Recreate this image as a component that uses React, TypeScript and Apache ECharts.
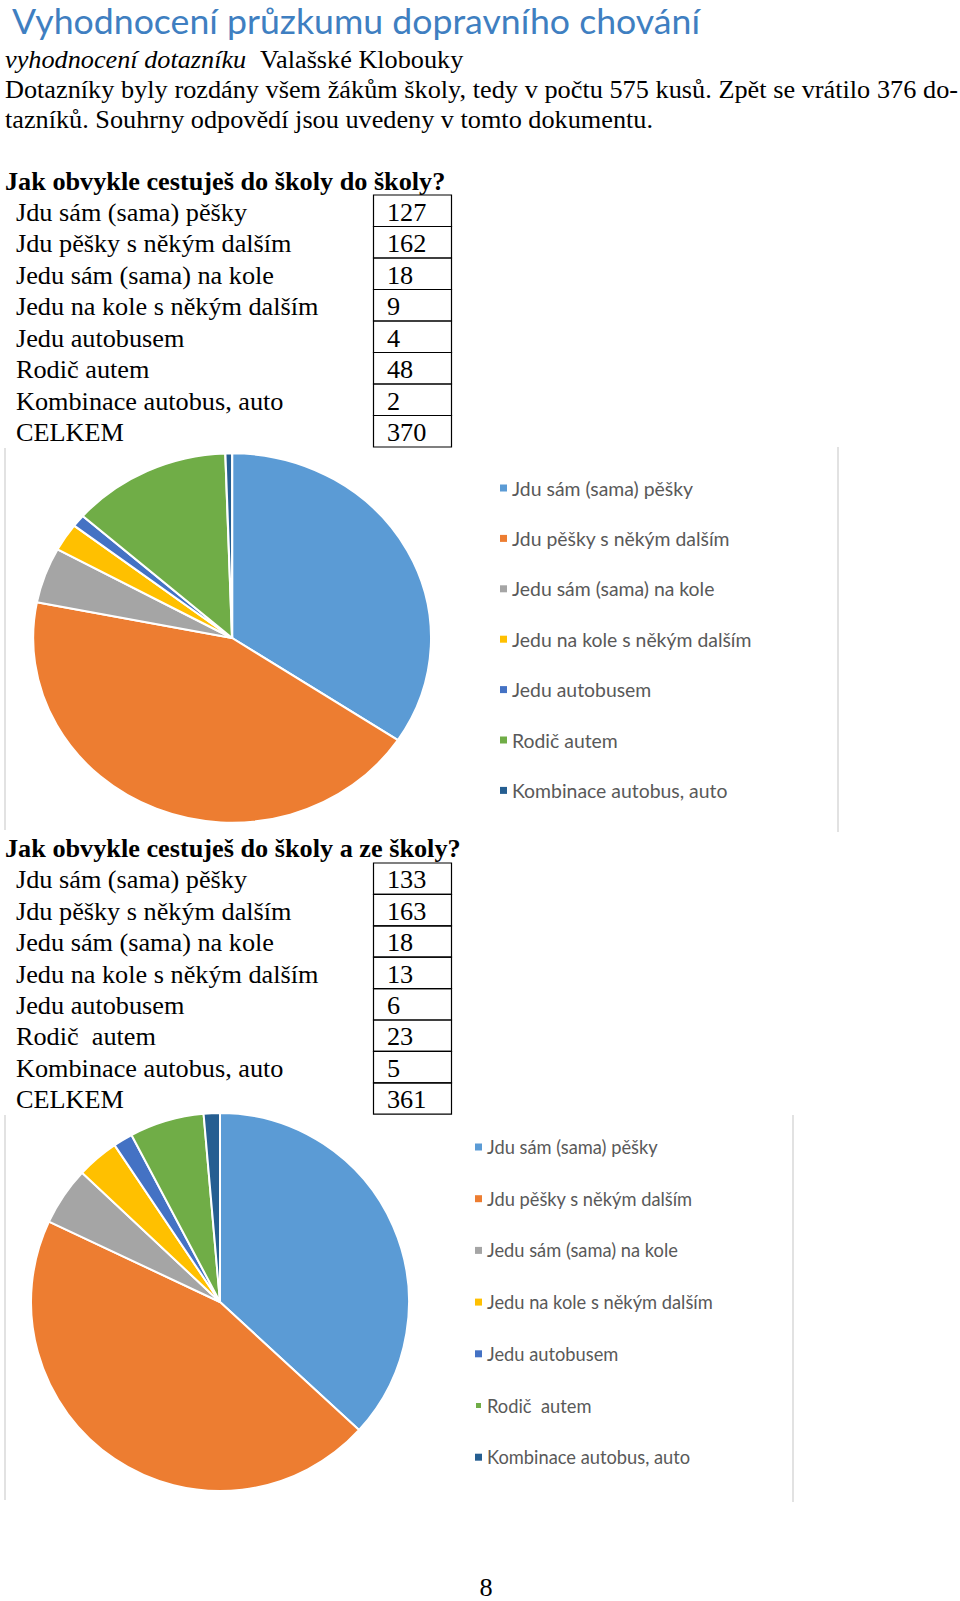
import React, { useEffect, useRef } from "react";
import * as echarts from "echarts";

// ---------- texts ----------
const TITLE = "Vyhodnocení průzkumu dopravního chování";
const SUBTITLE_ITALIC = "vyhodnocení dotazníku";
const SUBTITLE_PLACE = "Valašské Klobouky";
const PARA_LINE1 = "Dotazníky byly rozdány všem žákům školy, tedy v počtu 575 kusů. Zpět se vrátilo 376 do-";
const PARA_LINE2 = "tazníků. Souhrny odpovědí jsou uvedeny v tomto dokumentu.";
const QUESTION1 = "Jak obvykle cestuješ do školy do školy?";
const QUESTION2 = "Jak obvykle cestuješ do školy a ze školy?";
const TOTAL_LABEL = "CELKEM";
const PAGE_NUMBER = "8";

// ---------- data ----------
const categories1 = [
  "Jdu sám (sama) pěšky",
  "Jdu pěšky s někým dalším",
  "Jedu sám (sama) na kole",
  "Jedu na kole s někým dalším",
  "Jedu autobusem",
  "Rodič autem",
  "Kombinace autobus, auto",
];
const values1 = [127, 162, 18, 9, 4, 48, 2];
const total1 = 370;

const categories2 = [
  "Jdu sám (sama) pěšky",
  "Jdu pěšky s někým dalším",
  "Jedu sám (sama) na kole",
  "Jedu na kole s někým dalším",
  "Jedu autobusem",
  "Rodič  autem",
  "Kombinace autobus, auto",
];
const values2 = [133, 163, 18, 13, 6, 23, 5];
const total2 = 361;

const COLORS = ["#5B9BD5", "#ED7D31", "#A5A5A5", "#FFC000", "#4472C4", "#70AD47", "#255E91"];

// ---------- styles ----------
const SERIF = "Liberation Serif, serif";
const SANS = "Lato, sans-serif";
const SERIF_CENTRAL = 0.3375; // central baseline offset (em) for Liberation Serif
const LATO_CENTRAL = 0.387;
const SERIF_SX = 1.05; // the scanned page is slightly stretched horizontally

let measureCtx: CanvasRenderingContext2D | null = null;
function measure(text: string, font: string): number {
  if (!measureCtx) measureCtx = document.createElement("canvas").getContext("2d");
  measureCtx!.font = font;
  return measureCtx!.measureText(text).width;
}

function textEl(
  text: string,
  x: number,
  baseline: number,
  o: {
    fontSize: number;
    fontFamily?: string;
    fontWeight?: any;
    fontStyle?: string;
    fill?: string;
    align?: string;
    central?: number;
    lineHeight?: number;
    sx?: number;
  }
) {
  const central = o.central ?? SERIF_CENTRAL;
  const align = o.align ?? "left";
  const style: any = {
    text,
    fontSize: o.fontSize,
    fontFamily: o.fontFamily ?? SERIF,
    fontWeight: o.fontWeight ?? "normal",
    fontStyle: o.fontStyle ?? "normal",
    fill: o.fill ?? "#000",
    align,
    textAlign: align,
    verticalAlign: "middle",
    textVerticalAlign: "middle",
  };
  if (o.lineHeight) style.lineHeight = o.lineHeight;
  return {
    type: "text",
    x,
    y: baseline - central * o.fontSize,
    scaleX: o.sx ?? SERIF_SX,
    silent: true,
    style,
  };
}

function justifiedLine(text: string, x0: number, x1: number, baseline: number, fontSize: number) {
  const words = text.split(" ");
  const font = `${fontSize}px ${SERIF}`;
  const widths = words.map((w) => measure(w, font) * SERIF_SX);
  const total = widths.reduce((a, b) => a + b, 0);
  const gap = (x1 - x0 - total) / (words.length - 1);
  let x = x0;
  return words.map((w, i) => {
    const el = textEl(w, x, baseline, { fontSize });
    x += widths[i] + gap;
    return el;
  });
}

function tableEls(cats: string[], vals: number[], total: number, top: number, rowH: number, fontSize: number) {
  const rows: [string, string][] = [
    ...cats.map((c, i) => [c, String(vals[i])] as [string, string]),
    [TOTAL_LABEL, String(total)],
  ];
  const els: any[] = [];
  rows.forEach(([label, val], i) => {
    const y0 = top + i * rowH;
    const base = y0 + rowH / 2 + 1.5 + SERIF_CENTRAL * fontSize;
    els.push({
      type: "rect",
      silent: true,
      shape: { x: 373.5, y: y0, width: 78, height: rowH },
      style: { fill: "none", stroke: "#000", lineWidth: 1.2 },
    });
    els.push(textEl(label, 16, base, { fontSize }));
    els.push(textEl(val, 387, base, { fontSize }));
  });
  return els;
}

function vline(x: number, y1: number, y2: number) {
  return {
    type: "line",
    silent: true,
    shape: { x1: x, y1, x2: x, y2 },
    style: { stroke: "#d9d9d9", lineWidth: 1.5 },
  };
}

function pieData(cats: string[], vals: number[]) {
  return cats.map((name, i) => ({ name, value: vals[i], itemStyle: { color: COLORS[i] } }));
}

const PIE1_SX = 199 / 184.7;
const PIE1_BOX = 390;

export default function App() {
  const mainRef = useRef<HTMLDivElement>(null);
  const pie1Ref = useRef<HTMLDivElement>(null);

  useEffect(() => {
    if (!mainRef.current || !pie1Ref.current) return;
    const main = echarts.init(mainRef.current, null, { renderer: "svg" });
    const pie1 = echarts.init(pie1Ref.current, null, { renderer: "svg" });

    const titleFs = 34;
    const titleSx = 688 / measure(TITLE, `${titleFs}px ${SANS}`);
    const bodyFs = 25;

    const graphic: any[] = [
      textEl(TITLE, 12, 34, {
        fontSize: titleFs,
        fontFamily: SANS,
        fill: "#3f7fc1",
        central: LATO_CENTRAL,
        lineHeight: titleFs,
        sx: titleSx,
      }),
      textEl(SUBTITLE_ITALIC, 5, 68, { fontSize: bodyFs, fontStyle: "italic" }),
      textEl(SUBTITLE_PLACE, 260, 68, { fontSize: bodyFs }),
      ...justifiedLine(PARA_LINE1, 5, 958, 98, bodyFs),
      textEl(PARA_LINE2, 5, 128, { fontSize: bodyFs }),
      textEl(QUESTION1, 5, 190, { fontSize: bodyFs, fontWeight: "bold" }),
      ...tableEls(categories1, values1, total1, 195, 31.5, bodyFs),
      vline(5, 448, 830),
      vline(838, 447, 832),
      textEl(QUESTION2, 5, 857, { fontSize: bodyFs, fontWeight: "bold" }),
      ...tableEls(categories2, values2, total2, 863, 31.4, bodyFs),
      vline(5, 1115, 1500),
      vline(793, 1115, 1502),
      textEl(PAGE_NUMBER, 486, 1596, { fontSize: bodyFs, align: "center" }),
    ];

    const legendText = (fs: number) => ({ fontFamily: SANS, fontSize: fs, color: "#595959", lineHeight: 20 });

    main.setOption({
      animation: false,
      color: COLORS,
      legend: [
        {
          orient: "vertical",
          left: 500,
          top: 478,
          padding: 0,
          itemWidth: 7,
          itemHeight: 7,
          itemGap: 30.4,
          icon: "rect",
          selectedMode: false,
          data: categories1,
          textStyle: legendText(19.4),
        },
        {
          orient: "vertical",
          left: 474,
          top: 1137,
          padding: 0,
          itemWidth: 7,
          itemHeight: 7,
          itemGap: 31.7,
          icon: "rect",
          selectedMode: false,
          data: categories2,
          textStyle: legendText(18.3),
        },
      ],
      series: [
        {
          // carries the first chart's names for its legend; its visible slices are drawn in the pie1 instance
          type: "pie",
          name: "legend1",
          center: [-100, -100],
          radius: 0,
          silent: true,
          label: { show: false },
          labelLine: { show: false },
          data: pieData(categories1, values1),
        },
        {
          type: "pie",
          name: "Jak obvykle cestuješ do školy a ze školy?",
          center: [220, 1302],
          radius: 189,
          startAngle: 90,
          clockwise: true,
          silent: true,
          label: { show: false },
          labelLine: { show: false },
          itemStyle: { borderColor: "#ffffff", borderWidth: 2 },
          data: pieData(categories2, values2),
        },
      ],
      graphic,
    });

    pie1.setOption({
      animation: false,
      color: COLORS,
      series: [
        {
          type: "pie",
          name: "Jak obvykle cestuješ do školy do školy?",
          center: [PIE1_BOX / 2, PIE1_BOX / 2],
          radius: 184.7,
          startAngle: 90,
          clockwise: true,
          silent: true,
          label: { show: false },
          labelLine: { show: false },
          itemStyle: { borderColor: "#ffffff", borderWidth: 2 },
          data: pieData(categories1, values1),
        },
      ],
    });

    return () => {
      main.dispose();
      pie1.dispose();
    };
  }, []);

  return (
    <div
      style={{
        position: "absolute",
        left: 0,
        top: 0,
        width: 960,
        height: 1601,
        background: "#fff",
        overflow: "hidden",
      }}
    >
      <div ref={mainRef} style={{ position: "absolute", left: 0, top: 0, width: 960, height: 1601 }} />
      <div
        ref={pie1Ref}
        style={{
          position: "absolute",
          left: 231.7 - (PIE1_BOX / 2) * PIE1_SX,
          top: 638 - PIE1_BOX / 2,
          width: PIE1_BOX,
          height: PIE1_BOX,
          transform: `scaleX(${PIE1_SX})`,
          transformOrigin: "0 0",
        }}
      />
    </div>
  );
}
